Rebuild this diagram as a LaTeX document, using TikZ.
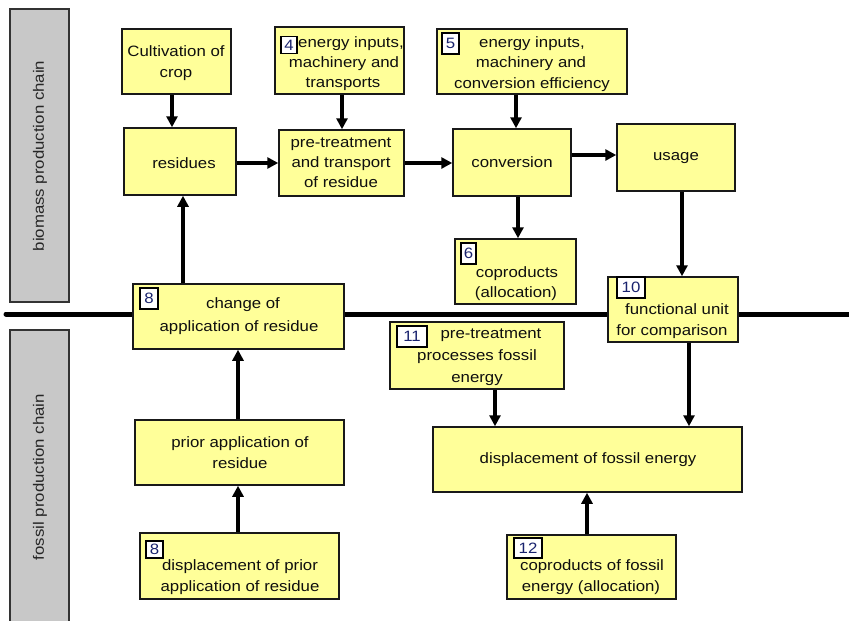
\documentclass[tikz,border=0pt]{standalone}
\usepackage{fontspec}
\setmainfont[FakeStretch=1.12]{Liberation Sans}
\usetikzlibrary{arrows.meta}
\definecolor{boxyellow}{RGB}{255,255,153}
\definecolor{sidegray}{RGB}{200,200,200}
\definecolor{numblue}{RGB}{25,35,110}
\definecolor{txt}{RGB}{15,15,15}
\newcommand{\lblfont}{\fontsize{15}{18}\selectfont}
\newcommand{\numfont}{\fontsize{15}{16}\selectfont}
\tikzset{
  box/.style={draw=black!90, line width=1.5pt, fill=boxyellow, inner sep=0pt, rectangle},
  numbox/.style={draw=black, line width=1.5pt, fill=white, inner sep=0pt, rectangle, font=\numfont, text=numblue},
  lbl/.style={anchor=base, inner sep=0pt, font=\lblfont, text=txt},
  arr/.style={line width=3.2pt, -{Triangle[length=11pt,width=11pt]}},
  sidebar/.style={fill=sidegray},
  sidetext/.style={rotate=90, inner sep=0pt, font=\lblfont, text=black!85}
}
\begin{document}
\begin{tikzpicture}[x=1pt,y=-1pt]
\useasboundingbox (0,0) rectangle (849,621);
% side bars
\fill[sidebar] (10,9) rectangle (69,302);
\draw[line width=1.8pt, black!80] (10,9) rectangle (69,302);
\fill[sidebar] (10,330) rectangle (69,621);
\draw[line width=1.8pt, black!80] (10,624) -- (10,330) -- (69,330) -- (69,624);
\node[sidetext] (bioside) at (40,156) {biomass production chain};
\node[sidetext] (fosside) at (40,477) {fossil production chain};
% thick separator
\coordinate (sepL) at (6,314);
\coordinate (sepR) at (852,314);
\draw[line width=5pt, line cap=round] (sepL) -- (sepR);
% boxes
\node[box, minimum width=109pt, minimum height=65pt] (cult) at (176.5,61.5) {};
\node[box, minimum width=112pt, minimum height=67pt] (resid) at (180,161.5) {};
\node[box, minimum width=129pt, minimum height=67pt] (e4) at (339.5,60.5) {};
\node[box, minimum width=125pt, minimum height=66pt] (pre) at (341.5,163) {};
\node[box, minimum width=190pt, minimum height=65pt] (e5) at (532,61.5) {};
\node[box, minimum width=118pt, minimum height=67pt] (conv) at (512,162.5) {};
\node[box, minimum width=118pt, minimum height=67pt] (usage) at (676,157.5) {};
\node[box, minimum width=121pt, minimum height=65pt] (cop) at (515.5,271.5) {};
\node[box, minimum width=130pt, minimum height=65pt] (fu) at (673,309.5) {};
\node[box, minimum width=211pt, minimum height=65pt] (chg) at (238.5,316.5) {};
\node[box, minimum width=209pt, minimum height=65pt] (prior) at (239.5,452.5) {};
\node[box, minimum width=199pt, minimum height=66pt] (dprior) at (239.5,566) {};
\node[box, minimum width=174pt, minimum height=67pt] (p11) at (477,355.5) {};
\node[box, minimum width=309pt, minimum height=65pt] (dfos) at (587.5,459.5) {};
\node[box, minimum width=169pt, minimum height=64pt] (c12) at (591.5,567) {};
% number boxes
\node[numbox, minimum width=16pt, minimum height=17pt] (n4) at (289,45) {4};
\node[numbox, minimum width=17pt, minimum height=21pt] (n5) at (450.5,43.5) {5};
\node[numbox, minimum width=15pt, minimum height=21pt] (n6) at (468.5,253.5) {6};
\node[numbox, minimum width=28pt, minimum height=21pt] (n10) at (631,287.5) {10};
\node[numbox, minimum width=18pt, minimum height=21pt] (n8a) at (149,298.5) {8};
\node[numbox, minimum width=17pt, minimum height=17pt] (n8b) at (154.5,549.5) {8};
\node[numbox, minimum width=30pt, minimum height=21pt] (n11) at (412,336.5) {11};
\node[numbox, minimum width=28pt, minimum height=20pt] (n12) at (528,548) {12};
% labels
\node[lbl] (t1a) at (176,56) {Cultivation of};
\node[lbl] (t1b) at (176,77) {crop};
\node[lbl] (t2) at (184,168) {residues};
\node[lbl] (t3a) at (351,47) {energy inputs,};
\node[lbl] (t3b) at (344,67) {machinery and};
\node[lbl] (t3c) at (343,87) {transports};
\node[lbl] (t4a) at (341,147) {pre-treatment};
\node[lbl] (t4b) at (341,167) {and transport};
\node[lbl] (t4c) at (341,187) {of residue};
\node[lbl] (t5a) at (532,47) {energy inputs,};
\node[lbl] (t5b) at (531,67) {machinery and};
\node[lbl] (t5c) at (532,88) {conversion efficiency};
\node[lbl] (t6) at (512,167) {conversion};
\node[lbl] (t7) at (676,160) {usage};
\node[lbl] (t8a) at (517,277) {coproducts};
\node[lbl] (t8b) at (516,297) {(allocation)};
\node[lbl] (t9a) at (677,314) {functional unit};
\node[lbl] (t9b) at (672,335) {for comparison};
\node[lbl] (t10a) at (243,308) {change of};
\node[lbl] (t10b) at (239,331) {application of residue};
\node[lbl] (t11a) at (240,447) {prior application of};
\node[lbl] (t11b) at (240,468) {residue};
\node[lbl] (t12a) at (240,570) {displacement of prior};
\node[lbl] (t12b) at (240,591) {application of residue};
\node[lbl] (t13a) at (491,338) {pre-treatment};
\node[lbl] (t13b) at (477,360) {processes fossil};
\node[lbl] (t13c) at (477,382) {energy};
\node[lbl] (t14) at (588,463) {displacement of fossil energy};
\node[lbl] (t15a) at (592,570) {coproducts of fossil};
\node[lbl] (t15b) at (591,591) {energy (allocation)};
% arrows
\draw[arr] (cult.south -| 172,0) -- (resid.north -| 172,0);
\draw[arr] (e4.south -| 342,0) -- (pre.north -| 342,0);
\draw[arr] (resid.east |- 0,163) -- (pre.west |- 0,163);
\draw[arr] (pre.east |- 0,163) -- (conv.west |- 0,163);
\draw[arr] (e5.south -| 516,0) -- (conv.north -| 516,0);
\draw[arr] (conv.east |- 0,155) -- (usage.west |- 0,155);
\draw[arr] (conv.south -| 518,0) -- (cop.north -| 518,0);
\draw[arr] (usage.south -| 682,0) -- (fu.north -| 682,0);
\draw[arr] (chg.north -| 183,0) -- (resid.south -| 183,0);
\draw[arr] (prior.north -| 238,0) -- (chg.south -| 238,0);
\draw[arr] (dprior.north -| 238,0) -- (prior.south -| 238,0);
\draw[arr] (p11.south -| 495,0) -- (dfos.north -| 495,0);
\draw[arr] (fu.south -| 689,0) -- (dfos.north -| 689,0);
\draw[arr] (c12.north -| 587,0) -- (dfos.south -| 587,0);
\end{tikzpicture}
\end{document}
